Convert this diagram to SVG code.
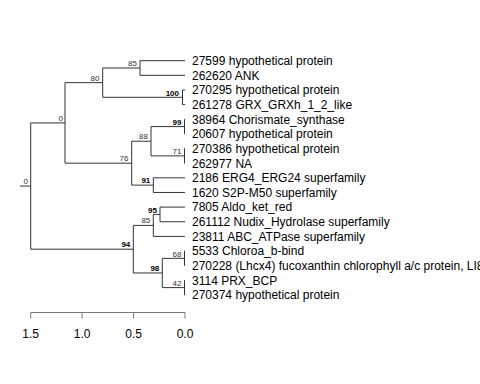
<svg xmlns="http://www.w3.org/2000/svg" width="480" height="384" viewBox="0 0 480 384">
<style>
.e{stroke:#333;stroke-width:1;fill:none}
.ax{stroke:#777;stroke-width:1;fill:none}
.lf{font-family:"Liberation Sans",Arial,sans-serif;font-size:12px;fill:#000}
.nl{font-family:"Liberation Sans",Arial,sans-serif;font-size:8px;fill:#333;text-anchor:end}
.b{font-weight:bold;fill:#000}
.tk{font-family:"Liberation Sans",Arial,sans-serif;font-size:12px;fill:#000;text-anchor:middle}
</style>
<rect width="480" height="384" fill="#fff"/>
<g id="connectors">
<path class="e" d="M20,186.06H30.7M30.7,122.92V249.19M30.7,122.92H65M30.7,249.19H133.3"/>
<path class="e" d="M65,82.66V163.18M65,82.66H102.7M65,163.18H131.7"/>
<path class="e" d="M102.7,68.02V97.3M102.7,68.02H140M102.7,97.3H182.5"/>
<path class="e" d="M140,60.7V75.34M140,60.7H185M140,75.34H185"/>
<path class="e" d="M182.5,89.98V104.62M182.5,89.98H185M182.5,104.62H185"/>
<path class="e" d="M131.7,141.22V185.14M131.7,141.22H151M131.7,185.14H153.3"/>
<path class="e" d="M151,126.58V155.86M151,126.58H184.5M151,155.86H184.5"/>
<path class="e" d="M184.5,119.26V133.9M184.5,119.26H185M184.5,133.9H185"/>
<path class="e" d="M184.5,148.54V163.18M184.5,148.54H185M184.5,163.18H185"/>
<path class="e" d="M153.3,177.82V192.46M153.3,177.82H185M153.3,192.46H185"/>
<path class="e" d="M133.3,225.4V272.98M133.3,225.4H153.3M133.3,272.98H162.3"/>
<path class="e" d="M153.3,214.42V236.38M153.3,214.42H160M153.3,236.38H185"/>
<path class="e" d="M160,207.1V221.74M160,207.1H185M160,221.74H185"/>
<path class="e" d="M162.3,258.34V287.62M162.3,258.34H184.5M162.3,287.62H184.5"/>
<path class="e" d="M184.5,251.02V265.66M184.5,251.02H185M184.5,265.66H185"/>
<path class="e" d="M184.5,280.3V294.94M184.5,280.3H185M184.5,294.94H185"/>
</g>
<g id="n_root"><text class="nl" x="28" y="184">0</text></g>
<g id="n0"><text class="nl" x="63" y="121">0</text></g>
<g id="n80"><text class="nl" x="99.5" y="80.5">80</text></g>
<g id="n85a"><text class="nl" x="137" y="66">85</text></g>
<g id="n100"><text class="nl b" x="179" y="95.5">100</text></g>
<g id="n76"><text class="nl" x="128.5" y="161">76</text></g>
<g id="n88"><text class="nl" x="148" y="139">88</text></g>
<g id="n99"><text class="nl b" x="181.5" y="124.5">99</text></g>
<g id="n71"><text class="nl" x="181.5" y="154">71</text></g>
<g id="n91"><text class="nl b" x="150.3" y="183">91</text></g>
<g id="n94"><text class="nl b" x="130.3" y="247">94</text></g>
<g id="n85b"><text class="nl" x="150.3" y="223">85</text></g>
<g id="n95"><text class="nl b" x="157" y="212.5">95</text></g>
<g id="n98"><text class="nl b" x="159.3" y="271">98</text></g>
<g id="n68"><text class="nl" x="181.5" y="256.5">68</text></g>
<g id="n42"><text class="nl" x="181.5" y="285.5">42</text></g>
<g id="leaf0"><text class="lf" x="192" y="65">27599 hypothetical protein</text></g>
<g id="leaf1"><text class="lf" x="192" y="79.6">262620 ANK</text></g>
<g id="leaf2"><text class="lf" x="192" y="94.3">270295 hypothetical protein</text></g>
<g id="leaf3"><text class="lf" x="192" y="108.9">261278 GRX_GRXh_1_2_like</text></g>
<g id="leaf4"><text class="lf" x="192" y="123.6">38964 Chorismate_synthase</text></g>
<g id="leaf5"><text class="lf" x="192" y="138.2">20607 hypothetical protein</text></g>
<g id="leaf6"><text class="lf" x="192" y="152.8">270386 hypothetical protein</text></g>
<g id="leaf7"><text class="lf" x="192" y="167.5">262977 NA</text></g>
<g id="leaf8"><text class="lf" x="192" y="182.1">2186 ERG4_ERG24 superfamily</text></g>
<g id="leaf9"><text class="lf" x="192" y="196.8">1620 S2P-M50 superfamily</text></g>
<g id="leaf10"><text class="lf" x="192" y="211.4">7805 Aldo_ket_red</text></g>
<g id="leaf11"><text class="lf" x="192" y="226">261112 Nudix_Hydrolase superfamily</text></g>
<g id="leaf12"><text class="lf" x="192" y="240.7">23811 ABC_ATPase superfamily</text></g>
<g id="leaf13"><text class="lf" x="192" y="255.3">5533 Chloroa_b-bind</text></g>
<g id="leaf14"><text class="lf" x="192" y="270">270228 (Lhcx4) fucoxanthin chlorophyll a/c protein, LI818</text></g>
<g id="leaf15"><text class="lf" x="192" y="284.6">3114 PRX_BCP</text></g>
<g id="leaf16"><text class="lf" x="192" y="299.2">270374 hypothetical protein</text></g>
<g id="axis">
<path class="ax" d="M30.7,312.5H185M30.7,312.5V318.5M82.1,312.5V318.5M133.6,312.5V318.5M185,312.5V318.5"/>
<text class="tk" x="30.7" y="338">1.5</text>
<text class="tk" x="82.1" y="338">1.0</text>
<text class="tk" x="133.6" y="338">0.5</text>
<text class="tk" x="185" y="338">0.0</text>
</g>
</svg>
